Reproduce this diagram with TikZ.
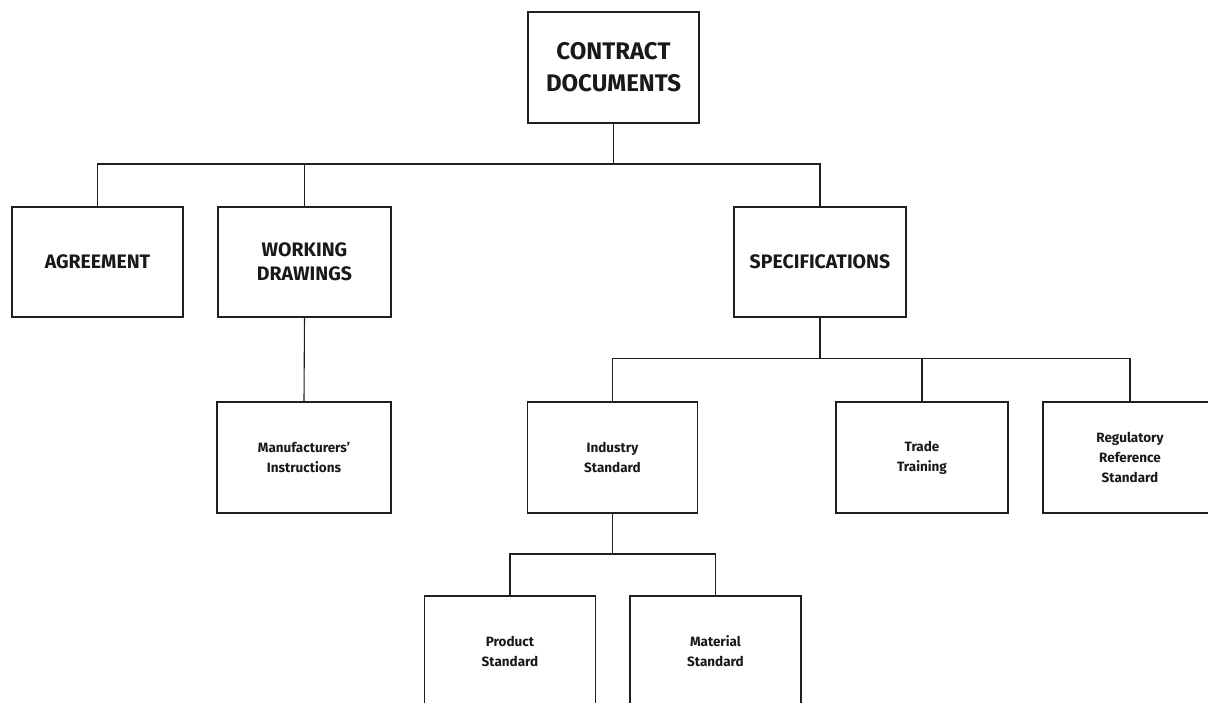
\documentclass[tikz,border=0pt]{standalone}
\usepackage{fontspec}
\setmainfont{Fira Sans}
\begin{document}
\begin{tikzpicture}[x=1pt,y=-1pt,
  box/.style={draw=black!88, line width=1.1pt, fill=white, inner sep=0pt,
    align=center, text=black!90, font=\bfseries},
  big/.style={box, font=\bfseries\fontsize{19.5}{24}\selectfont},
  small/.style={box, font=\bfseries\fontsize{13.5}{20}\selectfont},
  wire/.style={draw=black!88, line width=1.1pt}]
\useasboundingbox (0,0) rectangle (1208,703);
\clip (0,0) rectangle (1208,703);
% top level
\node[big, minimum width=171pt, minimum height=111pt,
  font=\bfseries\fontsize{24}{32}\selectfont] (cd) at (613.5,67.5) {CONTRACT\\DOCUMENTS};
% second level
\node[big, minimum width=171pt, minimum height=110pt] (ag) at (97.5,262) {AGREEMENT};
\node[big, minimum width=173pt, minimum height=110pt] (wd) at (304.5,262) {WORKING\\DRAWINGS};
\node[big, minimum width=172pt, minimum height=110pt] (sp) at (820,262) {SPECIFICATIONS};
% third level
\node[small, minimum width=174pt, minimum height=111pt] (mi) at (304,457.5) {Manufacturers'\\Instructions};
\node[small, minimum width=170pt, minimum height=111pt] (is) at (612.5,457.5) {Industry\\Standard};
\node[small, minimum width=172pt, minimum height=111pt] (tt) at (922,457.5) {Trade\\Training};
\node[small, minimum width=174pt, minimum height=111pt] (rr) at (1130,457.5) {Regulatory\\Reference\\Standard};
% fourth level
\node[small, minimum width=171pt, minimum height=110pt] (ps) at (510,651) {Product\\Standard};
\node[small, minimum width=171pt, minimum height=110pt] (ms) at (715.5,651) {Material\\Standard};
% bus lines
\coordinate (b1) at (613.5,164);
\coordinate (b2) at (820,358.5);
\coordinate (b3) at (612.5,554);
\draw[wire] (cd.south) -- (b1);
\draw[wire] (ag.north) |- (b1) -| (sp.north);
\draw[wire] (wd.north) -- (wd.north |- b1);
\draw[wire] (wd.south) -- (mi.north);
\draw[wire] (sp.south) -- (b2);
\draw[wire] (is.north) |- (b2) -| (rr.north);
\draw[wire] (tt.north) -- (tt.north |- b2);
\draw[wire] (is.south) -- (b3);
\draw[wire] (ps.north) |- (b3) -| (ms.north);
\end{tikzpicture}
\end{document}
